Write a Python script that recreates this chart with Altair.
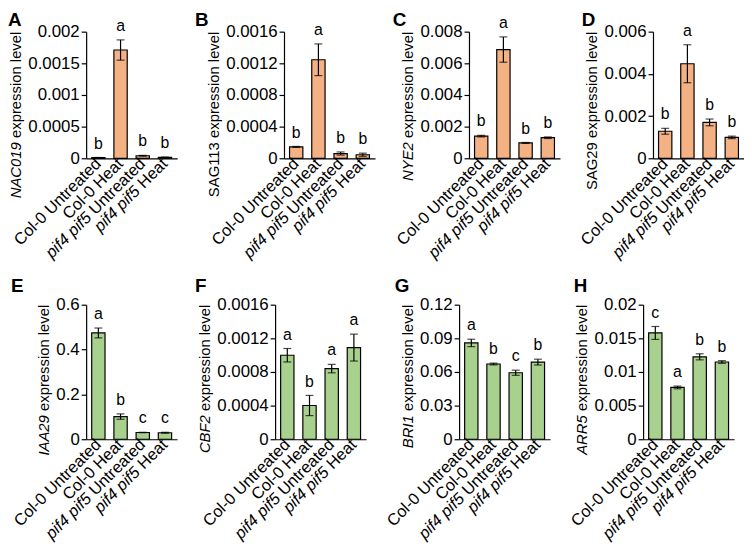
import altair as alt
import pandas as pd

groups = ["Col-0 Untreated", "Col-0 Heat", "pif4 pif5 Untreated", "pif4 pif5 Heat"]
genotype_italic = "pif4 pif5"

letters = ["A", "B", "C", "D", "E", "F", "G", "H"]
genes = ["NAC019", "SAG113", "NYE2", "SAG29", "IAA29", "CBF2", "BRI1", "ARR5"]
gene_italic = [True, False, True, False, True, True, True, True]

nac019_mean = [0.00001, 0.00171, 0.00004, 0.000015]
nac019_err = [0.000003, 0.00016, 0.000006, 0.000004]
nac019_sig = ["b", "a", "b", "b"]
nac019_ticks = [0, 0.0005, 0.001, 0.0015, 0.002]

sag113_mean = [0.000144, 0.001245, 0.00006, 0.000045]
sag113_err = [0.000006, 0.0002, 0.00002, 0.00002]
sag113_sig = ["b", "a", "b", "b"]
sag113_ticks = [0, 0.0004, 0.0008, 0.0012, 0.0016]

nye2_mean = [0.0014, 0.00687, 0.00097, 0.0013]
nye2_err = [0.00005, 0.0008, 0.00003, 0.00005]
nye2_sig = ["b", "a", "b", "b"]
nye2_ticks = [0, 0.002, 0.004, 0.006, 0.008]

sag29_mean = [0.00128, 0.00448, 0.0017, 0.00099]
sag29_err = [0.00014, 0.0009, 0.00016, 0.00006]
sag29_sig = ["b", "a", "b", "b"]
sag29_ticks = [0, 0.002, 0.004, 0.006]

iaa29_mean = [0.474, 0.101, 0.030, 0.029]
iaa29_err = [0.022, 0.012, 0.001, 0.002]
iaa29_sig = ["a", "b", "c", "c"]
iaa29_ticks = [0, 0.2, 0.4, 0.6]

cbf2_mean = [0.000999, 0.000401, 0.00084, 0.00109]
cbf2_err = [0.00008, 0.00012, 0.00005, 0.00016]
cbf2_sig = ["a", "b", "a", "a"]
cbf2_ticks = [0, 0.0004, 0.0008, 0.0012, 0.0016]

bri1_mean = [0.0859, 0.0671, 0.0593, 0.0688]
bri1_err = [0.0033, 0.0008, 0.0023, 0.0026]
bri1_sig = ["a", "b", "c", "b"]
bri1_ticks = [0, 0.03, 0.06, 0.09, 0.12]

arr5_mean = [0.0158, 0.0077, 0.01225, 0.01148]
arr5_err = [0.00096, 0.0002, 0.00045, 0.0002]
arr5_sig = ["c", "a", "b", "b"]
arr5_ticks = [0, 0.005, 0.01, 0.015, 0.02]

ORANGE = "#F4B183"
GREEN = "#A9D18E"
FONT = "Liberation Sans"
XFS = 16.5   # x label font size
YFS = 17     # y tick label font size
TFS = 15     # y title font size

# Arial / Liberation Sans advance widths (em)
CW = {" ": .278, ".": .278, "U": .722, "H": .722, "n": .556, "t": .278, "r": .333,
      "e": .556, "a": .556, "d": .556, "x": .5, "p": .556, "s": .5, "i": .222,
      "o": .556, "l": .222, "v": .5}
for ch in "0123456789":
    CW[ch] = .556


def tw(s, size):
    return sum(CW.get(c, .556) for c in s) * size


def fmt(v, d):
    s = f"{v:.{d}f}"
    if "." in s:
        s = s.rstrip("0").rstrip(".")
    return s


def panel(idx, means, errs, sigs, ticks, decimals, color, height, ldx, ldy):
    letter, gene, ital = letters[idx], genes[idx], gene_italic[idx]
    df = pd.DataFrame({"group": groups, "mean": means, "err": errs, "sig": sigs})
    base = alt.Chart(df).transform_calculate(
        lo="datum.mean - datum.err", hi="datum.mean + datum.err"
    )
    x = alt.X(
        "group:N",
        sort=groups,
        scale=alt.Scale(paddingInner=0.4, paddingOuter=0.25),
        axis=alt.Axis(title=None, labels=False, ticks=False, tickSize=0,
                      domainColor="black"),
    )
    yaxis = alt.Axis(values=ticks, format=f".{decimals}~f", title=None,
                     grid=False, tickSize=5, labelPadding=2,
                     labelFontSize=YFS, labelColor="black", labelFont=FONT,
                     domainColor="black", tickColor="black")
    yscale = alt.Scale(domain=[ticks[0], ticks[-1]], nice=False, zero=True)
    bars = base.mark_bar(color=color, stroke="black", strokeWidth=1.2).encode(
        x=x, y=alt.Y("mean:Q", scale=yscale, axis=yaxis)
    )
    rule = base.mark_rule(color="black", strokeWidth=1.2).encode(
        x=x, y=alt.Y("lo:Q", scale=yscale, axis=yaxis), y2="hi:Q"
    )
    cap_lo = base.mark_tick(color="black", size=8, thickness=1.2).encode(
        x=x, y=alt.Y("lo:Q", scale=yscale, axis=yaxis)
    )
    cap_hi = base.mark_tick(color="black", size=8, thickness=1.2).encode(
        x=x, y=alt.Y("hi:Q", scale=yscale, axis=yaxis)
    )
    sig = base.mark_text(baseline="bottom", dy=-6, fontSize=16, color="black").encode(
        x=x, y=alt.Y("hi:Q", scale=yscale, axis=yaxis), text="sig:N"
    )
    layers = [bars, rule, cap_lo, cap_hi, sig]

    # x category labels: genotype part in italics
    xl = alt.X("group:N", sort=groups, scale=alt.Scale(paddingInner=0.4, paddingOuter=0.25))
    for g in groups:
        sub = base.transform_filter(alt.datum.group == g)
        lab_kw = dict(angle=315, align="right", baseline="middle", fontSize=XFS,
                      font=FONT, color="black")
        if g.startswith(genotype_italic + " "):
            rest = g[len(genotype_italic) + 1:]
            layers.append(sub.transform_calculate(t=f"'{rest}'").mark_text(**lab_kw).encode(
                x=xl, y=alt.value(height + 3), text="t:N"))
            layers.append(sub.transform_calculate(t=f"'{genotype_italic}'").mark_text(
                fontStyle="italic", dx=-tw(" " + rest, XFS), **lab_kw).encode(
                x=xl, y=alt.value(height + 3), text="t:N"))
        else:
            layers.append(sub.mark_text(**lab_kw).encode(
                x=xl, y=alt.value(height + 3), text="group:N"))

    # y title: gene name (italic where the source is) + " expression level"
    lab_w = max(tw(fmt(v, decimals), YFS) for v in ticks)
    tx = -(5 + 2 + lab_w + 4)
    rest_title = " expression level"
    tdf = pd.DataFrame({"gene": [gene], "rest": [rest_title.strip()]})
    tkw = dict(angle=270, align="right", baseline="bottom", fontSize=TFS, font=FONT, color="black")
    layers.append(alt.Chart(tdf).mark_text(**tkw).encode(
        x=alt.value(tx), y=alt.value(0), text="rest:N"))
    layers.append(alt.Chart(tdf).mark_text(
        fontStyle="italic" if ital else "normal", dx=-tw(rest_title, TFS), **tkw).encode(
        x=alt.value(tx), y=alt.value(0), text="gene:N"))

    # panel letter
    layers.append(alt.Chart(pd.DataFrame({"t": [letter]})).mark_text(
        align="left", baseline="alphabetic", fontSize=19, fontWeight="bold", color="black"
    ).encode(x=alt.value(ldx), y=alt.value(ldy), text="t:N"))
    return alt.layer(*layers).properties(width=92, height=height)


row1 = alt.hconcat(
    panel(0, nac019_mean, nac019_err, nac019_sig, nac019_ticks, 4, ORANGE, 128, -79, -6),
    panel(1, sag113_mean, sag113_err, sag113_sig, sag113_ticks, 4, ORANGE, 128, -90, -6),
    panel(2, nye2_mean, nye2_err, nye2_sig, nye2_ticks, 3, ORANGE, 128, -77, -6),
    panel(3, sag29_mean, sag29_err, sag29_sig, sag29_ticks, 3, ORANGE, 128, -72, -6),
    spacing=18,
)
row2 = alt.hconcat(
    panel(4, iaa29_mean, iaa29_err, iaa29_sig, iaa29_ticks, 1, GREEN, 136, -76, -13),
    panel(5, cbf2_mean, cbf2_err, cbf2_sig, cbf2_ticks, 4, GREEN, 136, -81, -13),
    panel(6, bri1_mean, bri1_err, bri1_sig, bri1_ticks, 2, GREEN, 136, -65, -13),
    panel(7, arr5_mean, arr5_err, arr5_sig, arr5_ticks, 3, GREEN, 136, -70, -13),
    spacing=18,
)

chart = alt.vconcat(row1, row2, spacing=15, padding=0).configure(
    font=FONT
).configure_view(stroke=None).configure_axis(
    domainWidth=1.2, tickWidth=1.2,
)

chart.save("out.html", embed_options={"renderer": "svg", "actions": False})
